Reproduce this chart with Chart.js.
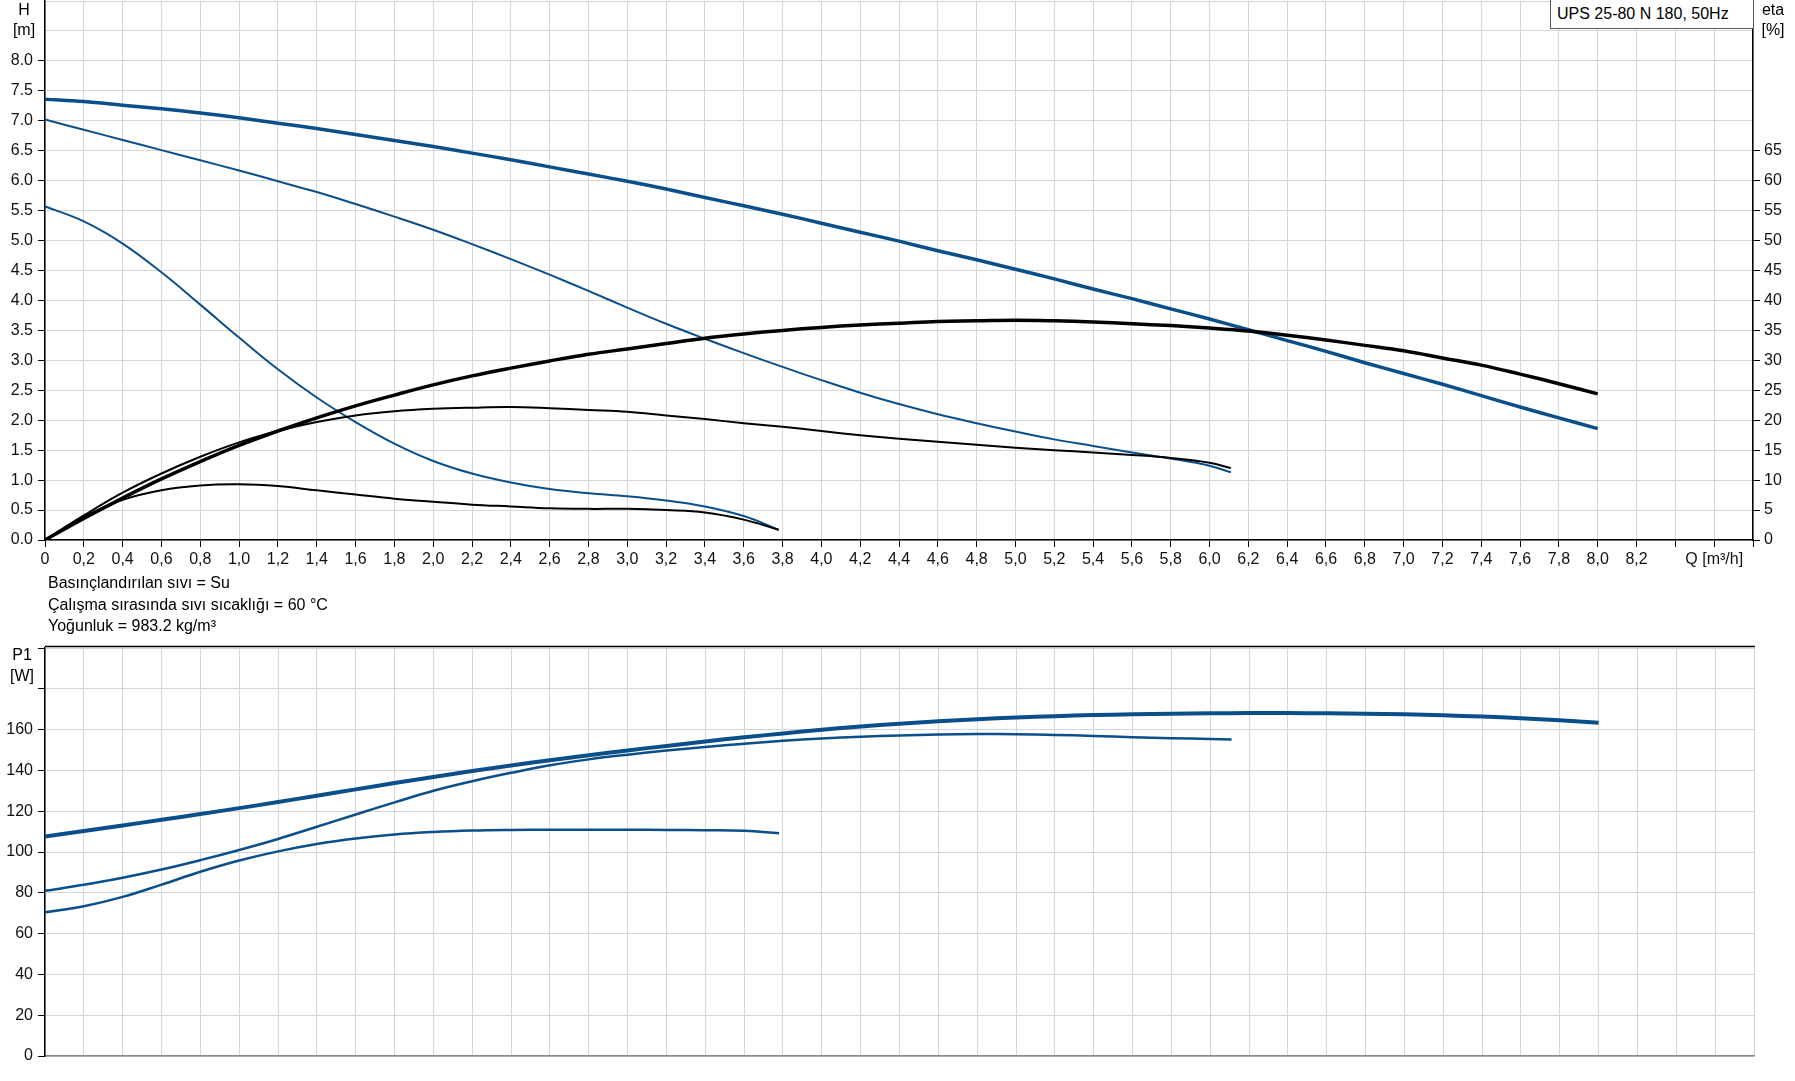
<!DOCTYPE html>
<html>
<head>
<meta charset="utf-8">
<title>UPS 25-80 N 180</title>
<script src="https://cdn.jsdelivr.net/npm/chart.js@4.4.1/dist/chart.umd.min.js"></script>
<style>
  html, body { margin: 0; padding: 0; background: #fff; }
  body {
    width: 1795px; height: 1081px; position: relative; overflow: hidden;
    font-family: 'Liberation Sans', Arial, sans-serif; color: #000;
  }
  #topWrap { position: absolute; left: 0; top: 0; }
  #bottomWrap { position: absolute; left: 0; top: 640px; }
  .lbl { position: absolute; font-size: 16px; line-height: 18px; text-align: center; white-space: nowrap; }
  #info { position: absolute; left: 48px; top: 572px; font-size: 16px; line-height: 21.5px; white-space: nowrap; }
  #legendBox {
    position: absolute; left: 1550px; top: 0; width: 204px; height: 29px; box-sizing: border-box;
    border: 1px solid #555; border-top: none; background: #fff;
    font-size: 16px; line-height: 27px; padding-left: 6px; white-space: nowrap;
  }
</style>
</head>
<body>
<div id="topWrap"><canvas id="topChart" width="1795" height="600"></canvas></div>
<div id="bottomWrap"><canvas id="bottomChart" width="1795" height="441"></canvas></div>

<div class="lbl" style="left:0;top:1px;width:48px;">H</div>
<div class="lbl" style="left:0;top:21px;width:48px;">[m]</div>
<div class="lbl" style="left:1753px;top:1px;width:40px;">eta</div>
<div class="lbl" style="left:1753px;top:21px;width:40px;">[%]</div>
<div class="lbl" style="left:0;top:646px;width:44px;">P1</div>
<div class="lbl" style="left:0;top:667px;width:44px;">[W]</div>
<div id="legendBox">UPS 25-80 N 180, 50Hz</div>
<div id="info">
  Basınçlandırılan sıvı = Su<br>
  Çalışma sırasında sıvı sıcaklığı = 60 °C<br>
  Yoğunluk = 983.2 kg/m³
</div>

<script>
// Tick labels
const xTickLabels = ['0', '0,2', '0,4', '0,6', '0,8', '1,0', '1,2', '1,4', '1,6', '1,8',
    '2,0', '2,2', '2,4', '2,6', '2,8', '3,0', '3,2', '3,4', '3,6', '3,8',
    '4,0', '4,2', '4,4', '4,6', '4,8', '5,0', '5,2', '5,4', '5,6', '5,8',
    '6,0', '6,2', '6,4', '6,6', '6,8', '7,0', '7,2', '7,4', '7,6', '7,8',
    '8,0', '8,2', '', 'Q [m³/h]', ''];
const hTickLabels = ['0.0', '0.5', '1.0', '1.5', '2.0', '2.5', '3.0', '3.5', '4.0',
    '4.5', '5.0', '5.5', '6.0', '6.5', '7.0', '7.5', '8.0', '', ''];
const etaTickLabels = ['0', '5', '10', '15', '20', '25', '30', '35', '40', '45', '50', '55', '60', '65'];
const p1TickLabels = ['0', '20', '40', '60', '80', '100', '120', '140', '160', '', ''];

// Flow values (m3/h) for each speed curve
const q1 = [0, 0.2, 0.4, 0.6, 0.8, 1.0, 1.2, 1.4, 1.6, 1.8, 2.0, 2.2, 2.4, 2.6, 2.8, 3.0, 3.2, 3.4, 3.6, 3.78];
const q2 = [0, 0.2, 0.4, 0.6, 0.8, 1.0, 1.2, 1.4, 1.6, 1.8, 2.0, 2.2, 2.4, 2.6, 2.8, 3.0,
    3.2, 3.4, 3.6, 3.8, 4.0, 4.2, 4.4, 4.6, 4.8, 5.0, 5.2, 5.4, 5.6, 5.8, 6.0, 6.11];
const q3 = [0, 0.2, 0.4, 0.6, 0.8, 1.0, 1.2, 1.4, 1.6, 1.8, 2.0, 2.2, 2.4, 2.6, 2.8, 3.0,
    3.2, 3.4, 3.6, 3.8, 4.0, 4.2, 4.4, 4.6, 4.8, 5.0, 5.2, 5.4, 5.6, 5.8, 6.0,
    6.2, 6.4, 6.6, 6.8, 7.0, 7.2, 7.4, 7.6, 7.8, 8.0];

// Head H [m]
const h1 = [5.57, 5.32, 4.95, 4.47, 3.93, 3.38, 2.85, 2.38, 1.97, 1.61, 1.32, 1.11, 0.96, 0.85, 0.78, 0.73, 0.66, 0.56, 0.40, 0.17];
const h2 = [7.02, 6.85, 6.68, 6.51, 6.34, 6.17, 5.99, 5.81, 5.61, 5.40, 5.18, 4.94, 4.69, 4.43, 4.16, 3.88,
    3.61, 3.36, 3.12, 2.89, 2.67, 2.46, 2.27, 2.10, 1.95, 1.81, 1.68, 1.57, 1.46, 1.36, 1.24, 1.13];
const h3 = [7.36, 7.32, 7.26, 7.20, 7.13, 7.05, 6.96, 6.87, 6.77, 6.67, 6.57, 6.46, 6.35, 6.23, 6.11, 5.99,
    5.86, 5.72, 5.58, 5.44, 5.29, 5.14, 4.99, 4.83, 4.68, 4.52, 4.36, 4.19, 4.03, 3.86, 3.69,
    3.51, 3.33, 3.15, 2.96, 2.78, 2.60, 2.41, 2.22, 2.04, 1.86];

// Efficiency eta [%]
const eta1 = [0, 3.9, 6.7, 8.3, 9.1, 9.3, 9.0, 8.3, 7.6, 6.9, 6.4, 5.9, 5.6, 5.3, 5.2, 5.2, 5.0, 4.6, 3.4, 1.7];
const eta2 = [0, 4.1, 7.9, 11.1, 13.9, 16.3, 18.2, 19.7, 20.8, 21.5, 21.9, 22.1, 22.2, 22.0, 21.7, 21.4,
    20.8, 20.2, 19.5, 18.9, 18.2, 17.5, 16.9, 16.4, 15.9, 15.4, 15.0, 14.6, 14.2, 13.7, 12.9, 12.0];
const eta3 = [0, 3.6, 7.0, 10.2, 13.1, 15.8, 18.2, 20.4, 22.4, 24.2, 25.9, 27.4, 28.7, 29.9, 31.0, 31.9,
    32.8, 33.7, 34.4, 35.0, 35.5, 35.9, 36.2, 36.5, 36.6, 36.7, 36.6, 36.4, 36.1, 35.8, 35.4,
    34.9, 34.2, 33.4, 32.5, 31.6, 30.4, 29.2, 27.7, 26.1, 24.4];

// Power P1 [W]
const p1 = [70.4, 73.4, 78.0, 84.0, 90.3, 95.8, 100.3, 103.9, 106.6, 108.6, 109.8, 110.5, 110.8, 110.9, 110.9, 110.9, 110.8, 110.7, 110.4, 109.2];
const p2 = [81.0, 83.9, 87.4, 91.4, 96.0, 101.0, 106.4, 112.4, 118.4, 124.3, 130.0, 134.7, 138.8, 142.5, 145.4, 147.7,
    149.7, 151.5, 153.1, 154.5, 155.6, 156.5, 157.1, 157.6, 157.8, 157.7, 157.4, 156.9, 156.3, 155.8, 155.4, 155.2];
const p3 = [107.6, 110.3, 113.0, 115.8, 118.6, 121.5, 124.5, 127.6, 130.7, 133.8, 136.8, 139.7, 142.4, 145.0, 147.4, 149.8,
    152.0, 154.2, 156.2, 158.1, 159.9, 161.5, 162.9, 164.1, 165.1, 165.9, 166.6, 167.1, 167.5, 167.8, 168.0,
    168.1, 168.1, 168.0, 167.8, 167.5, 167.0, 166.4, 165.6, 164.6, 163.4];

const blue = '#0b4f8a';
const gridColor = '#d3d5d8';
const tickFont = { family: "'Liberation Sans', Arial, sans-serif", size: 16 };

function pts(q, v) {
    return q.map((x, i) => ({ x: x, y: v[i] }));
}

function line(q, v, color, width, axis) {
    return {
        data: pts(q, v),
        yAxisID: axis,
        borderColor: color,
        borderWidth: width,
        pointRadius: 0,
        fill: false,
        tension: 0.4
    };
}

// Hide tick marks above a limit
const tickMark = limit => ctx => (ctx.tick && ctx.tick.value > limit + 0.001) ? 'rgba(0,0,0,0)' : '#000';

// Fix axis size and drop the label overhang padding so the plot area is exact
function fixSize(w, h) {
    return s => {
        if (w !== null) s.width = w;
        if (h !== null) s.height = h;
        s.paddingTop = 0;
        s.paddingBottom = 0;
        s.paddingLeft = 0;
        s.paddingRight = 0;
    };
}

// H / eta chart
new Chart(document.getElementById('topChart'), {
    type: 'line',
    data: {
        datasets: [
            line(q3, eta3, '#000', 3.5, 'y1'),
            line(q2, eta2, '#000', 2, 'y1'),
            line(q1, eta1, '#000', 2, 'y1'),
            line(q3, h3, blue, 3.5, 'y'),
            line(q2, h2, blue, 2, 'y'),
            line(q1, h1, blue, 2, 'y')
        ]
    },
    options: {
        responsive: false,
        animation: false,
        layout: { padding: { top: 1, left: 0, right: 0, bottom: 0 } },
        plugins: { legend: { display: false }, tooltip: { enabled: false } },
        scales: {
            x: {
                type: 'linear',
                min: 0,
                max: 8.8,
                ticks: {
                    stepSize: 0.2,
                    autoSkip: false,
                    maxRotation: 0,
                    padding: 3,
                    font: tickFont,
                    color: '#111',
                    callback: (v, i) => xTickLabels[i] ?? ''
                },
                grid: { color: gridColor, tickColor: '#000', tickLength: 7 },
                border: { color: '#000', width: 1.5 },
                afterFit: fixSize(null, 60)
            },
            y: {
                min: 0,
                max: 9,
                ticks: {
                    stepSize: 0.5,
                    padding: 5,
                    font: tickFont,
                    color: '#111',
                    callback: (v, i) => hTickLabels[i] ?? ''
                },
                grid: { color: gridColor, tickColor: tickMark(8), tickLength: 7 },
                border: { color: '#000', width: 1.5 },
                afterFit: fixSize(45, null)
            },
            y1: {
                position: 'right',
                min: 0,
                max: 90,
                ticks: {
                    stepSize: 5,
                    padding: 4,
                    font: tickFont,
                    color: '#111',
                    callback: (v, i) => etaTickLabels[i] ?? ''
                },
                grid: { drawOnChartArea: false, tickColor: tickMark(65), tickLength: 7 },
                border: { color: '#000', width: 1.5 },
                afterFit: fixSize(42, null)
            }
        }
    }
});

// Black top edge of the power chart
const topEdge = {
    id: 'topEdge',
    afterDraw(chart) {
        const { ctx, chartArea: a } = chart;
        ctx.save();
        ctx.strokeStyle = '#000';
        ctx.lineWidth = 1.5;
        ctx.beginPath();
        ctx.moveTo(a.left, a.top - 1.5);
        ctx.lineTo(a.right + 1, a.top - 1.5);
        ctx.stroke();
        ctx.restore();
    }
};

// P1 chart
new Chart(document.getElementById('bottomChart'), {
    type: 'line',
    data: {
        datasets: [
            line(q3, p3, blue, 4, 'y'),
            line(q2, p2, blue, 2.5, 'y'),
            line(q1, p1, blue, 2.5, 'y')
        ]
    },
    options: {
        responsive: false,
        animation: false,
        layout: { padding: { top: 8, left: 0, right: 41, bottom: 0 } },
        plugins: { legend: { display: false }, tooltip: { enabled: false } },
        scales: {
            x: {
                type: 'linear',
                min: 0,
                max: 8.8,
                ticks: { stepSize: 0.2, display: false, autoSkip: false },
                grid: { color: gridColor, drawTicks: false },
                border: { color: '#888', width: 1.5 },
                afterFit: fixSize(null, 25)
            },
            y: {
                min: 0,
                max: 200,
                ticks: {
                    stepSize: 20,
                    padding: 5,
                    font: tickFont,
                    color: '#111',
                    callback: (v, i) => p1TickLabels[i] ?? ''
                },
                grid: { color: gridColor, tickColor: '#000', tickLength: 7 },
                border: { color: '#000', width: 1.5 },
                afterFit: fixSize(45, null)
            }
        }
    },
    plugins: [topEdge]
});
</script>
</body>
</html>
